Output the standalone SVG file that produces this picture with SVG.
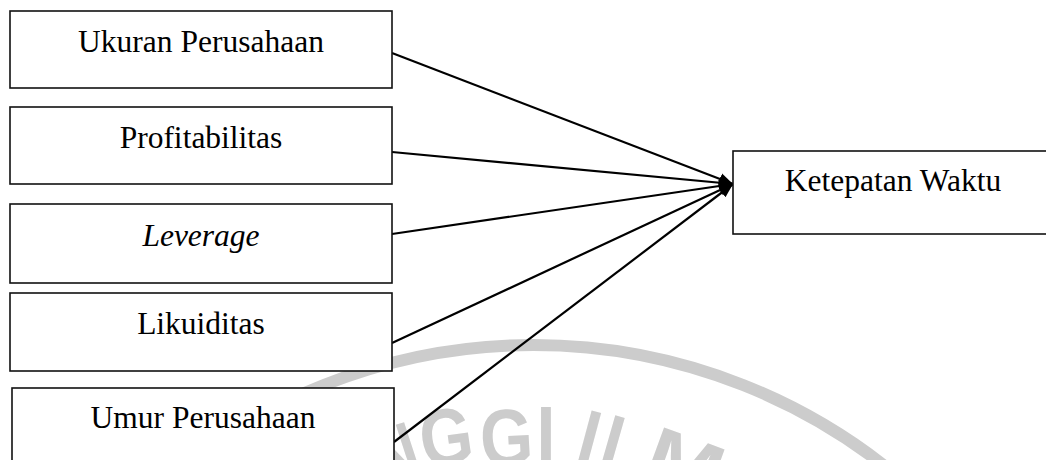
<svg xmlns="http://www.w3.org/2000/svg" width="1046" height="460" viewBox="0 0 1046 460">
  <defs>
    <style>
      .box { fill: #ffffff; stroke: #111111; stroke-width: 1.6; }
      .label { font-family: "Liberation Serif", "Times New Roman", serif; font-size: 31.5px; fill: #000000; text-anchor: middle; }
      .italic { font-style: italic; }
      .edge { fill: none; stroke: #000000; stroke-width: 2.2; marker-end: url(#arrow); }
      .wm-ring { fill: none; stroke: #cccccc; stroke-width: 12; }
      .wm-letter { font-family: "Liberation Sans", Arial, sans-serif; font-weight: bold; font-size: 80px; fill: #cccccc; text-anchor: middle; }
    </style>
    <marker id="arrow" markerUnits="userSpaceOnUse" markerWidth="15" markerHeight="13" refX="14" refY="6.5" orient="auto">
      <path d="M0,0.5 L14,6.5 L0,12.5 Z" fill="#000000"/>
    </marker>
  </defs>

  <rect width="1046" height="460" fill="#ffffff"/>

  <!-- faint seal in the background -->
  <g id="watermark">
    <circle class="wm-ring" cx="533.4" cy="914.5" r="569.5"/>
    <text class="wm-letter" transform="translate(402.1,480.6) rotate(-18) scale(0.85,1)">N</text>
    <text class="wm-letter" transform="translate(450,464.4) rotate(-8) scale(0.85,1)">G</text>
    <text class="wm-letter" transform="translate(508,465) rotate(-3) scale(0.85,1)">G</text>
    <text class="wm-letter" transform="translate(546,462) scale(0.85,1)">I</text>
    <text class="wm-letter" transform="translate(582.2,465) rotate(15) scale(0.85,1)">I</text>
    <text class="wm-letter" transform="translate(615.6,472.8) rotate(16) scale(0.85,1)">L</text>
    <text class="wm-letter" transform="translate(675.6,490) rotate(20) scale(1.15,1)">M</text>
  </g>

  <!-- arrows from each factor to the outcome -->
  <g id="connectors">
    <path class="edge" d="M392,53 L733,184"/>
    <path class="edge" d="M392,152 L733,184"/>
    <path class="edge" d="M392,234 L733,184"/>
    <path class="edge" d="M392,343 L733,184"/>
    <path class="edge" d="M394,442 L733,184"/>
  </g>

  <g id="ukuran-perusahaan">
    <rect class="box" x="10" y="11" width="382" height="77"/>
    <text class="label" x="201" y="52">Ukuran Perusahaan</text>
  </g>

  <g id="profitabilitas">
    <rect class="box" x="10" y="107" width="382" height="77"/>
    <text class="label" x="201" y="148">Profitabilitas</text>
  </g>

  <g id="leverage">
    <rect class="box" x="10" y="204" width="382" height="79"/>
    <text class="label italic" x="201" y="246">Leverage</text>
  </g>

  <g id="likuiditas">
    <rect class="box" x="10" y="293" width="382" height="78"/>
    <text class="label" x="201" y="334">Likuiditas</text>
  </g>

  <g id="umur-perusahaan">
    <rect class="box" x="12" y="388" width="382" height="90"/>
    <text class="label" x="203" y="428">Umur Perusahaan</text>
  </g>

  <g id="ketepatan-waktu">
    <rect class="box" x="733" y="151" width="320" height="83"/>
    <text class="label" x="893" y="191">Ketepatan Waktu</text>
  </g>
</svg>
